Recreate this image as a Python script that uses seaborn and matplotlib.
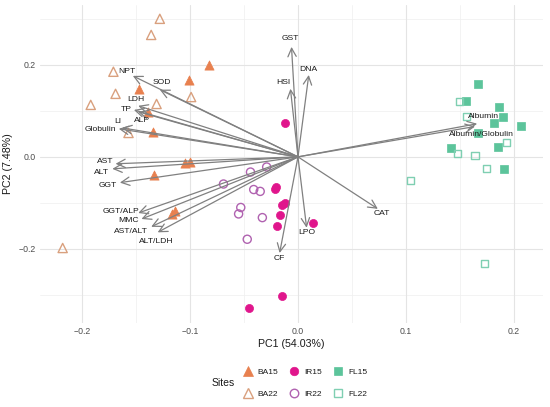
import numpy as np
import pandas as pd
import matplotlib
matplotlib.use("Agg")
import matplotlib.pyplot as plt
from matplotlib.lines import Line2D
import seaborn as sns

# ---------------- data ----------------
ba15_pc1 = [-0.082, -0.101, -0.147, -0.139, -0.134, -0.105, -0.100, -0.133, -0.114, -0.117]
ba15_pc2 = [0.200, 0.167, 0.147, 0.098, 0.054, -0.014, -0.012, -0.039, -0.117, -0.125]
ba22_pc1 = [-0.128, -0.136, -0.171, -0.169, -0.192, -0.099, -0.131, -0.157, -0.218]
ba22_pc2 = [0.300, 0.265, 0.185, 0.137, 0.113, 0.130, 0.115, 0.052, -0.198]
ir15_pc1 = [-0.012, -0.020, -0.021, -0.015, -0.012, -0.017, -0.019, 0.014, -0.015, -0.045]
ir15_pc2 = [0.074, -0.065, -0.070, -0.104, -0.100, -0.126, -0.151, -0.144, -0.302, -0.329]
ir22_pc1 = [-0.029, -0.044, -0.069, -0.041, -0.035, -0.053, -0.055, -0.033, -0.047]
ir22_pc2 = [-0.022, -0.033, -0.059, -0.071, -0.075, -0.110, -0.124, -0.132, -0.179]
fl15_pc1 = [0.167, 0.156, 0.186, 0.190, 0.182, 0.207, 0.167, 0.142, 0.185, 0.191]
fl15_pc2 = [0.159, 0.122, 0.109, 0.087, 0.074, 0.066, 0.052, 0.020, 0.022, -0.026]
fl22_pc1 = [0.150, 0.156, 0.193, 0.148, 0.164, 0.175, 0.104, 0.173]
fl22_pc2 = [0.120, 0.087, 0.032, 0.008, 0.002, -0.026, -0.052, -0.231]

sites = ["BA15", "BA22", "IR15", "IR22", "FL15", "FL22"]

var_names = ["GST", "DNA", "HSI", "Albumin", "Albumin/Globulin", "CAT", "LPO", "CF",
             "NPT", "SOD", "LDH", "TP", "ALP", "LI", "Globulin", "AST", "ALT", "GGT",
             "GGT/ALP", "MMC", "AST/ALT", "ALT/LDH"]
load_pc1 = [-0.006, 0.010, -0.007, 0.166, 0.164, 0.074, 0.008, -0.017,
            -0.153, -0.128, -0.148, -0.152, -0.148, -0.163, -0.166, -0.169, -0.172, -0.165,
            -0.148, -0.145, -0.136, -0.130]
load_pc2 = [0.239, 0.178, 0.148, 0.072, 0.066, -0.113, -0.154, -0.209,
            0.176, 0.146, 0.111, 0.102, 0.098, 0.063, 0.061, -0.015, -0.026, -0.056,
            -0.122, -0.135, -0.152, -0.164]

x_title = "PC1 (54.03%)"
y_title = "PC2 (7.48%)"
legend_title = "Sites"

# ---------------- styles ----------------
label_offset_px = {
    "GST": (-1, 8), "DNA": (0, 5), "HSI": (-7, 6), "Albumin": (6, 7),
    "Albumin/Globulin": (6, -8), "CAT": (4, -5), "LPO": (0, -5), "CF": (0, -5),
    "NPT": (-6, 4), "SOD": (2, 7), "LDH": (-2, 6), "TP": (-8, 0), "ALP": (4, -9),
    "LI": (-4, 6), "Globulin": (-18, -1), "AST": (-10, 2), "ALT": (-11, -4),
    "GGT": (-12, -3), "GGT/ALP": (-17, 2), "MMC": (-13, -2), "AST/ALT": (-20, -5),
    "ALT/LDH": (-1, -9),
}
site_style = {
    "BA15": dict(marker="^", color="#E8804F", filled=True, s=44),
    "BA22": dict(marker="^", color="#D9A07E", filled=False, s=44),
    "IR15": dict(marker="o", color="#E0168C", filled=True, s=34),
    "IR22": dict(marker="o", color="#B062B0", filled=False, s=34),
    "FL15": dict(marker="s", color="#5CC49B", filled=True, s=26),
    "FL22": dict(marker="s", color="#7FCFB2", filled=False, s=26),
}

frames = []
for name, xs, ys in [("BA15", ba15_pc1, ba15_pc2), ("BA22", ba22_pc1, ba22_pc2),
                     ("IR15", ir15_pc1, ir15_pc2), ("IR22", ir22_pc1, ir22_pc2),
                     ("FL15", fl15_pc1, fl15_pc2), ("FL22", fl22_pc1, fl22_pc2)]:
    frames.append(pd.DataFrame({"PC1": xs, "PC2": ys, "Site": name}))
df = pd.concat(frames, ignore_index=True)
loadings = pd.DataFrame({"var": var_names, "PC1": load_pc1, "PC2": load_pc2})

sns.set_theme(style="white")
plt.rcParams["font.family"] = ["Liberation Sans", "DejaVu Sans"]

fig = plt.figure(figsize=(5.5, 4.07), dpi=100)
ax = fig.add_axes([40 / 550, 1 - 323 / 407, 503 / 550, 318 / 407])

xmin, xmax = -0.239, 0.227
ymin, ymax = -0.361, 0.330
ax.set_xlim(xmin, xmax)
ax.set_ylim(ymin, ymax)

for v in [-0.15, -0.05, 0.05, 0.15]:
    ax.axvline(v, color="#EFEFEF", lw=0.5, zorder=0)
for v in [-0.3, -0.1, 0.1, 0.3]:
    ax.axhline(v, color="#EFEFEF", lw=0.5, zorder=0)
for v in [-0.2, -0.1, 0.0, 0.1, 0.2]:
    ax.axvline(v, color="#E4E4E4", lw=0.8, zorder=0)
for v in [-0.2, 0.0, 0.2]:
    ax.axhline(v, color="#E4E4E4", lw=0.8, zorder=0)

for site in sites:
    st = site_style[site]
    sub = df[df["Site"] == site]
    if st["filled"]:
        sns.scatterplot(data=sub, x="PC1", y="PC2", marker=st["marker"], s=st["s"],
                        color=st["color"], edgecolor=st["color"], linewidth=0.5,
                        ax=ax, zorder=3, legend=False)
    else:
        sns.scatterplot(data=sub, x="PC1", y="PC2", marker=st["marker"], s=st["s"],
                        facecolor="none", edgecolor=st["color"], linewidth=1.0,
                        ax=ax, zorder=3, legend=False)

for _, r in loadings.iterrows():
    ax.annotate("", xy=(r["PC1"], r["PC2"]), xytext=(0, 0),
                arrowprops=dict(arrowstyle="->,head_length=0.5,head_width=0.25",
                                color="#808080", lw=0.9, shrinkA=0, shrinkB=0),
                zorder=4)
for _, r in loadings.iterrows():
    off = label_offset_px[r["var"]]
    ax.annotate(r["var"], xy=(r["PC1"], r["PC2"]), xytext=off,
                textcoords="offset pixels", ha="center", va="center",
                fontsize=6.1, color="#1A1A1A", zorder=5)

ax.set_xticks([-0.2, -0.1, 0.0, 0.1, 0.2])
ax.set_xticklabels(["\u22120.2", "\u22120.1", "0.0", "0.1", "0.2"])
ax.set_yticks([-0.2, 0.0, 0.2])
ax.set_yticklabels(["\u22120.2", "0.0", "0.2"])
ax.tick_params(axis="both", length=0, labelsize=6.3, labelcolor="#4D4D4D", pad=3)
for sp in ax.spines.values():
    sp.set_visible(False)
ax.set_xlabel(x_title, fontsize=7.7, color="#1A1A1A", labelpad=2)
ax.set_ylabel(y_title, fontsize=7.7, color="#1A1A1A", labelpad=4)

handles = []
for site in sites:
    st = site_style[site]
    handles.append(Line2D([0], [0], linestyle="none", marker=st["marker"],
                          markersize=np.sqrt(st["s"]) * 1.05,
                          markerfacecolor=st["color"] if st["filled"] else "none",
                          markeredgecolor=st["color"],
                          markeredgewidth=0.5 if st["filled"] else 1.0,
                          label=site))
leg = fig.legend(handles=handles, loc="center", bbox_to_anchor=(305 / 550, 1 - 383 / 407),
                 ncol=3, frameon=False, fontsize=6, handletextpad=0.6,
                 columnspacing=1.3, labelspacing=1.75, handlelength=1.2)
for t in leg.get_texts():
    t.set_color("#1A1A1A")
fig.text(223 / 550, 1 - 383 / 407, legend_title, ha="center", va="center",
         fontsize=7.5, color="#1A1A1A")

fig.savefig("out.png", dpi=100)
